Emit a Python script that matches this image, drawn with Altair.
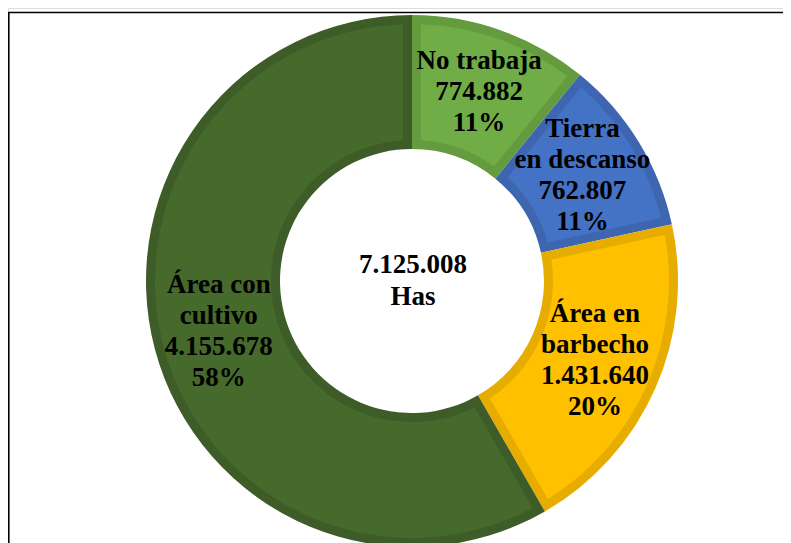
import altair as alt
import pandas as pd

categories = ["No trabaja", "Tierra en descanso", "Área en barbecho", "Área con cultivo"]
values = [774882, 762807, 1431640, 4155678]
labels = [
    "No trabaja\n774.882\n11%",
    "Tierra\nen descanso\n762.807\n11%",
    "Área en\nbarbecho\n1.431.640\n20%",
    "Área con\ncultivo\n4.155.678\n58%",
]
fill_colors = ["#70AD47", "#4472C4", "#FFC000", "#46692C"]
border_colors = ["#649B3F", "#3E66B0", "#E6AD00", "#3D5C27"]
center_label = "7.125.008\nHas"

df = pd.DataFrame({
    "cat": categories,
    "val": values,
    "label": labels,
    "nlines": [lab.count("\n") + 1 for lab in labels],
    "order": list(range(len(categories))),
})

W, H = 775, 535
CX, CY = 404, 273
R_OUT, R_IN = 266, 132
BORDER = 9
FS = 27
LH = 31

theta = alt.Theta("val:Q", stack=True)
order = alt.Order("order:Q", sort="ascending")

border_arc = alt.Chart(df).mark_arc(
    radius=R_OUT, radius2=R_IN, stroke=None
).encode(
    theta=theta,
    order=order,
    x=alt.value(CX),
    y=alt.value(CY),
    color=alt.Color("cat:N", scale=alt.Scale(domain=categories, range=border_colors), legend=None),
)

fill_arc = alt.Chart(df).mark_arc(
    radius=R_OUT - BORDER, radius2=R_IN + BORDER, padAngle=0.06, stroke=None
).encode(
    theta=theta,
    order=order,
    x=alt.value(CX),
    y=alt.value(CY),
    color=alt.Color("cat:N", scale=alt.Scale(domain=categories, range=fill_colors), legend=None),
)


def label_layer(n):
    return alt.Chart(df).transform_calculate(
        t=f"datum.nlines == {n} ? datum.label : ''"
    ).mark_text(
        radius=200, font="Liberation Serif", fontWeight="bold", fontSize=FS,
        lineBreak="\n", lineHeight=LH, color="black", align="center", baseline="middle",
        dy=-(n - 1) * LH / 2 - 1,
    ).encode(
        theta=theta,
        order=order,
        x=alt.value(CX),
        y=alt.value(CY),
        text="t:N",
    )


center = alt.Chart(pd.DataFrame({"t": [center_label]})).mark_text(
    font="Liberation Serif", fontWeight="bold", fontSize=FS,
    lineBreak="\n", lineHeight=32, color="black", align="center", baseline="middle"
).encode(
    x=alt.value(CX + 1),
    y=alt.value(CY - 16),
    text="t:N",
)

frame_v = alt.Chart(pd.DataFrame({"a": [0]})).mark_rule(color="black", strokeWidth=1.6).encode(
    x=alt.value(0.8), y=alt.value(4.5), y2=alt.value(H)
)
frame_h = alt.Chart(pd.DataFrame({"a": [0]})).mark_rule(color="black", strokeWidth=1.4).encode(
    x=alt.value(0), x2=alt.value(W), y=alt.value(4.5)
)

chart = alt.layer(
    border_arc, fill_arc, label_layer(3), label_layer(4), center, frame_v, frame_h
).resolve_scale(
    color="independent"
).properties(
    width=W, height=H, padding=0, autosize=alt.AutoSizeParams(type="none")
).configure_view(stroke=None).configure(background="white")

chart.save("out.html", embed_options={"renderer": "svg", "actions": False})
